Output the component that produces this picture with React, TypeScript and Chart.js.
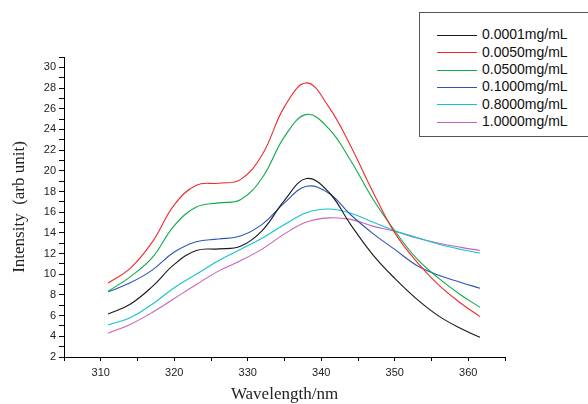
import React, { useEffect, useRef } from 'react';
import { Chart, registerables } from 'chart.js';

Chart.register(...registerables);

// Wavelength (nm) sample positions
const wavelengths = [311, 314, 317, 320, 323, 326, 329, 332, 335, 338, 341, 344, 347, 350, 353, 356, 359, 361.6];

const seriesLabels = ['0.0001mg/mL', '0.0050mg/mL', '0.0500mg/mL', '0.1000mg/mL', '0.8000mg/mL', '1.0000mg/mL'];

const c00001 = [6.15, 7.1, 8.8, 10.95, 12.3, 12.45, 12.7, 14.25, 17.15, 19.25, 17.95, 14.8, 11.9, 9.6, 7.6, 5.95, 4.75, 3.9];
const c00050 = [9.15, 10.56, 13.1, 16.7, 18.6, 18.8, 19.15, 21.6, 26.2, 28.5, 26.2, 22.4, 18.0, 14.0, 11.2, 8.95, 7.2, 5.9];
const c00500 = [8.35, 9.75, 11.6, 14.7, 16.5, 16.9, 17.2, 19.35, 23.3, 25.45, 24.1, 21.0, 17.3, 14.2, 11.5, 9.6, 8.0, 6.8];
const c01000 = [8.3, 9.17, 10.4, 12.15, 13.15, 13.4, 13.7, 14.85, 16.9, 18.5, 17.85, 15.75, 13.95, 12.4, 10.85, 9.9, 9.2, 8.65];
const c08000 = [5.1, 5.8, 7.1, 8.7, 10.0, 11.3, 12.4, 13.5, 14.8, 15.95, 16.3, 15.9, 15.05, 14.2, 13.55, 12.9, 12.4, 12.05];
const c10000 = [4.3, 5.15, 6.3, 7.65, 9.0, 10.3, 11.3, 12.45, 13.9, 15.05, 15.45, 15.3, 14.65, 14.15, 13.5, 13.0, 12.6, 12.3];

const seriesValues = [c00001, c00050, c00500, c01000, c08000, c10000];
const seriesColors = ['#1a1a1a', '#f22a2a', '#10aa48', '#2a56b5', '#14c3d3', '#c562bd'];

const sansFont = '"Liberation Sans", Arial, Helvetica, sans-serif';
const serifFont = '"Liberation Serif", "Times New Roman", Times, serif';

export default function App() {
  const canvasRef = useRef<HTMLCanvasElement>(null);

  useEffect(() => {
    document.body.style.margin = '0';
    const canvas = canvasRef.current;
    if (!canvas) return;
    const chart = new Chart(canvas, {
      type: 'line',
      data: {
        datasets: seriesValues.map((vals, i) => ({
          label: seriesLabels[i],
          data: wavelengths.map((x, j) => ({ x, y: vals[j] })),
          borderColor: seriesColors[i],
          backgroundColor: seriesColors[i],
          borderWidth: 1.1,
          pointRadius: 0,
          fill: false,
          tension: 0.4,
        })),
      },
      options: {
        animation: false,
        responsive: false,
        devicePixelRatio: 1,
        layout: { padding: { top: 57, right: 83, bottom: 0, left: 0 } },
        plugins: {
          legend: { display: false },
          tooltip: { enabled: false },
        },
        scales: {
          x: {
            type: 'linear',
            min: 305,
            max: 365,
            afterFit: (s: any) => { s.height = 47; },
            ticks: {
              stepSize: 5,
              autoSkip: false,
              maxRotation: 0,
              padding: 5,
              color: '#222',
              font: { family: sansFont, size: 11 },
              callback: (v: any) => (Number(v) % 10 === 0 ? String(v) : ''),
            },
            grid: { drawOnChartArea: false, drawTicks: true, tickLength: 4, color: '#000' },
            border: { display: true, color: '#000', width: 1 },
            title: {
              display: true,
              text: 'Wavelength/nm',
              color: '#222',
              font: { family: serifFont, size: 17, lineHeight: 1 },
              padding: { top: 0, bottom: 1 },
            },
          },
          y: {
            type: 'linear',
            min: 2,
            max: 31,
            afterFit: (s: any) => { s.width = 64; },
            ticks: {
              stepSize: 1,
              autoSkip: false,
              padding: 3,
              color: '#222',
              font: { family: sansFont, size: 11 },
              callback: (v: any) => (Number(v) % 2 === 0 && Number(v) <= 30 ? String(v) : ''),
            },
            grid: { drawOnChartArea: false, drawTicks: true, tickLength: 5, color: '#000' },
            border: { display: true, color: '#000', width: 1 },
            title: {
              display: true,
              text: 'Intensity  (arb unit)',
              color: '#222',
              font: { family: serifFont, size: 17, lineHeight: 1 },
              padding: { top: 11, bottom: 0 },
            },
          },
        },
      },
    });
    return () => chart.destroy();
  }, []);

  return (
    <div style={{ position: 'fixed', left: 0, top: 0, width: 588, height: 404, overflow: 'hidden', background: '#fff' }}>
      <canvas ref={canvasRef} width={588} height={404} style={{ position: 'absolute', left: 0, top: 0, width: 588, height: 404 }} />
      <div
        style={{
          position: 'absolute',
          left: 419,
          top: 12,
          width: 190,
          height: 125,
          boxSizing: 'border-box',
          border: '1px solid #555',
          background: '#fff',
        }}
      />
      {seriesLabels.map((lab, i) => {
        const cy = 35 + i * 17.35;
        return (
          <React.Fragment key={lab}>
            <div style={{ position: 'absolute', left: 437, top: Math.round(cy) - 0.5, width: 40, height: 1.2, background: seriesColors[i] }} />
            <div
              style={{
                position: 'absolute',
                left: 482,
                top: cy - 8.7,
                fontFamily: sansFont,
                fontSize: 14,
                lineHeight: '16px',
                color: '#111',
                whiteSpace: 'nowrap',
              }}
            >
              {lab}
            </div>
          </React.Fragment>
        );
      })}
    </div>
  );
}
